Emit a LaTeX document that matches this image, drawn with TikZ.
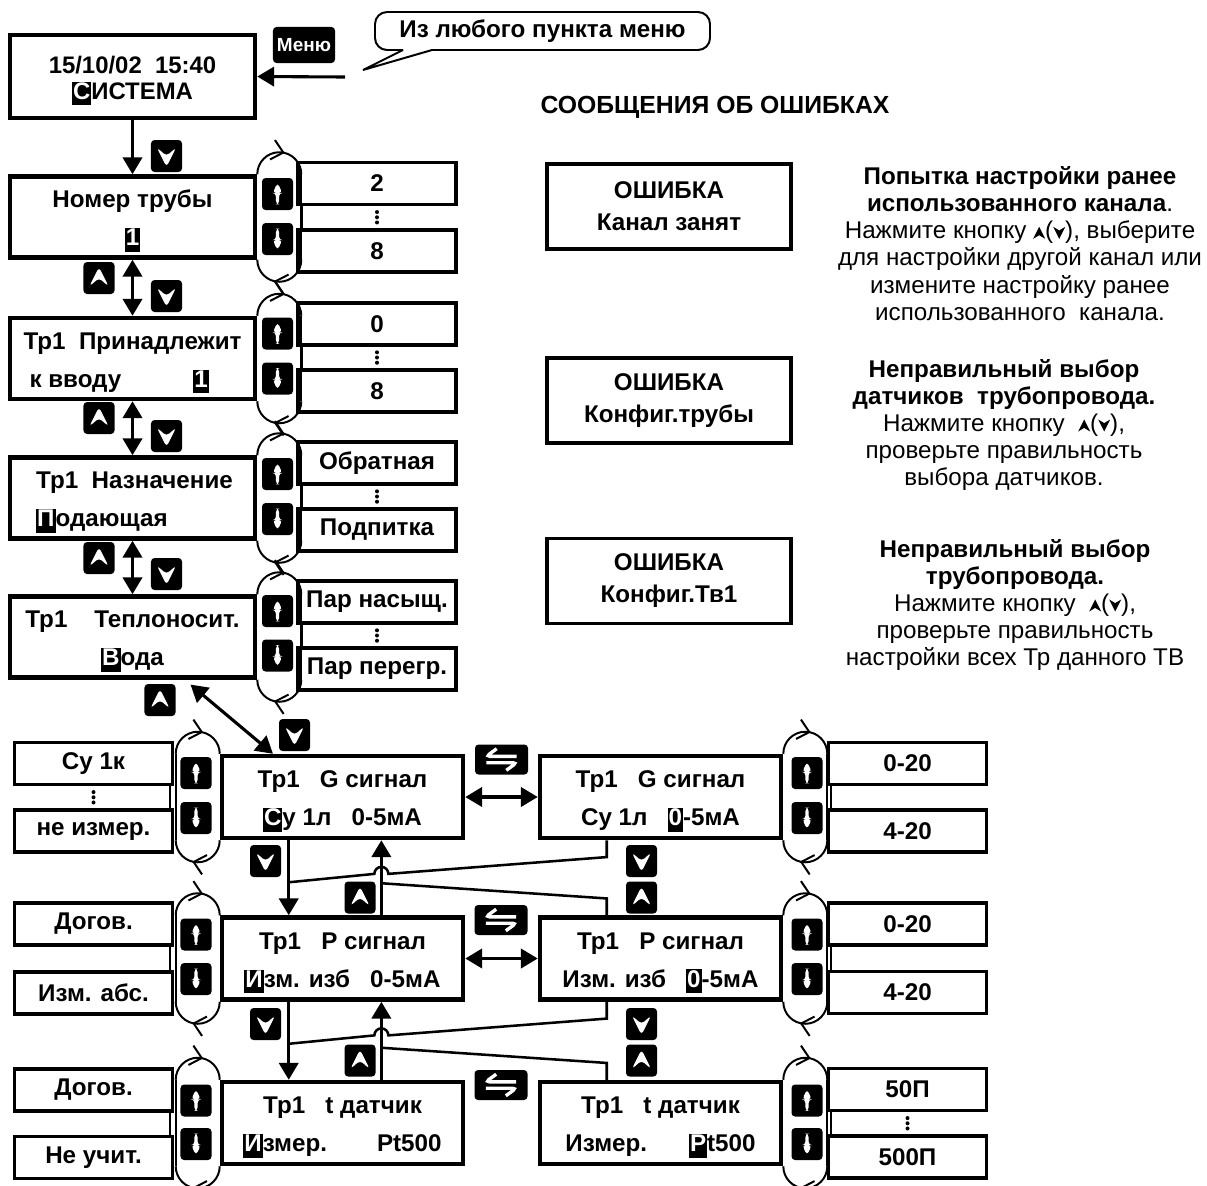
\documentclass[tikz,border=0pt]{standalone}
\usepackage{fontspec}
\setmainfont{Liberation Sans}
\usetikzlibrary{arrows.meta,calc,decorations.markings,positioning}

\newcommand\curs[1]{{\setlength\fboxsep{0.7pt}\colorbox{black}{\color{white}\vphantom{Ру}#1}}}
\newcommand\lift{\rule{0pt}{18pt}}
\newcommand\chevup{\tikz[baseline=0pt]\fill (0,0) -- (0.15cm,0.3cm) -- (0.3cm,0) -- (0.15cm,0.09cm) -- cycle;}
\newcommand\chevdn{\tikz[baseline=0pt]\fill (0,0.3cm) -- (0.15cm,0) -- (0.3cm,0.3cm) -- (0.15cm,0.21cm) -- cycle;}

\tikzset{
  screen/.style={draw, line width=3.2pt, minimum width=6.125cm, minimum height=2.025cm,
    inner sep=0pt, align=center, font=\bfseries\fontsize{17.2}{27}\selectfont},
  lcd/.style={screen, minimum width=6.025cm, minimum height=2.05cm},
  errbox/.style={draw, line width=2.8pt, minimum width=6.1cm, minimum height=2.125cm,
    inner sep=0pt, align=center, font=\bfseries\fontsize{17.2}{22.8}\selectfont},
  opt/.style={draw, line width=2.3pt, minimum width=3.95cm, minimum height=1.05cm,
    inner sep=0pt, font=\bfseries\fontsize{17.2}{20}\selectfont},
  note/.style={align=center, font=\fontsize{17.2}{19.3}\selectfont},
  btn/.style={fill=black, rounded corners=0.09cm, minimum width=0.775cm,
    minimum height=0.8cm, inner sep=0pt},
  navdown/.style={btn, path picture={\fill[white, shift={(path picture bounding box.center)}]
    (-0.24cm,0.21cm) -- (0,-0.27cm) -- (0.24cm,0.21cm) -- (0,0) -- cycle;}},
  navup/.style={btn, path picture={\fill[white, shift={(path picture bounding box.center)}]
    (-0.24cm,-0.21cm) -- (0,0.27cm) -- (0.24cm,-0.21cm) -- (0,0) -- cycle;}},
  scrollup/.style={btn, path picture={\fill[white, shift={(path picture bounding box.center)}]
    (0,0.28cm) -- (0.12cm,0.03cm) -- (0.04cm,0.03cm) -- (0.04cm,-0.26cm)
    -- (-0.04cm,-0.26cm) -- (-0.04cm,0.03cm) -- (-0.12cm,0.03cm) -- cycle;}},
  scrolldown/.style={btn, path picture={\fill[white, shift={(path picture bounding box.center)}]
    (0,-0.28cm) -- (0.12cm,-0.03cm) -- (0.04cm,-0.03cm) -- (0.04cm,0.26cm)
    -- (-0.04cm,0.26cm) -- (-0.04cm,-0.03cm) -- (-0.12cm,-0.03cm) -- cycle;}},
  swapkey/.style={btn, minimum width=1.325cm, minimum height=0.75cm, path picture={
    \draw[white, line width=2.4pt, shift={(path picture bounding box.center)}]
      (0.38cm,0.08cm) -- (-0.38cm,0.08cm) -- (-0.12cm,0.27cm);
    \draw[white, line width=2.4pt, shift={(path picture bounding box.center)}]
      (-0.38cm,-0.08cm) -- (0.38cm,-0.08cm) -- (0.12cm,-0.27cm);}},
  navarrow/.style={line width=2.2pt, -{Triangle[length=0.42cm,width=0.48cm]}},
  navboth/.style={line width=2.2pt, {Triangle[length=0.42cm,width=0.48cm]}-{Triangle[length=0.42cm,width=0.48cm]}},
  cyc/.style={line width=1.4pt, decoration={markings, mark=at position 0.58 with
    {\arrow{Straight Barb[length=0.28cm,width=0.5cm]}}}, postaction={decorate}},
  side/.style={line width=1.4pt},
  link/.style={line width=1.8pt},
  tie/.style={line width=1.4pt},
}

\begin{document}
\begin{tikzpicture}[x=0.025cm, y=-0.025cm]
    \useasboundingbox (0,0) rectangle (1207,1185);
    % main screen and menu key
    \node[screen, minimum height=2.075cm, font=\bfseries\fontsize{17}{18.5}\selectfont] (sys) at (132.5,76.5) {\lift 15/10/02\ \ 15:40\\\curs{С}ИСТЕМА};
    \node[btn, minimum width=1.55cm, minimum height=0.9cm, text=white, font=\bfseries\fontsize{13.5}{15}\selectfont] (menu) at (304,45) {Меню};
    \node[font=\bfseries\fontsize{17.2}{20}\selectfont] (bubble) at (542.5,31) {Из любого пункта меню};
    \draw[line width=1.4pt, rounded corners=0.3cm] (432,50) -- (710,50) -- (710,12) -- (375,12) -- (375,50) -- (403,50);
    \draw[line width=1.4pt] (403,50) -- (363,70) -- (432,50);
    \coordinate (anywhere) at (345,77);
    \draw[navarrow] (anywhere) -- (sys.east);

    % pipe settings
    \node[screen] (num) at (132.5,217) {\lift Номер трубы\\\curs{1}};
    \node[screen, align=left] (own) at (132.5,358.5) {\lift Тр1\ \ Принадлежит\\\hspace{0.15cm}к вводу\hspace{1.8cm}\curs{1}};
    \node[screen, align=left] (purp) at (132.5,498) {\lift\hspace{0.1cm}Тр1\ \ Назначение\\\hspace{0.1cm}\curs{П}одающая};
    \node[screen] (medium) at (132.5,637) {\lift Тр1\ \ \ \ Теплоносит.\\\curs{В}ода};
    \draw[navarrow] (sys.south) -- (num.north);
    \draw[navboth] (num.south) -- (own.north);
    \draw[navboth] (own.south) -- (purp.north);
    \draw[navboth] (purp.south) -- (medium.north);
    \node[navdown] (k0) at (166.5,156) {};
    \foreach \n/\y/\z in {1/278/296, 2/418/436, 3/558/574} {
        \node[navup] (up\n) at (99,\y) {};
        \node[navdown] (dn\n) at (166.5,\z) {};
    }

    \node[opt] (numA) at (377,183.5) {2};
    \node[opt] (numB) at (377,251) {8};
    \node[opt] (ownA) at (377,324) {0};
    \node[opt] (ownB) at (377,391) {8};
    \node[opt] (purpA) at (377,463) {Обратная};
    \node[opt] (purpB) at (377,530) {Подпитка};
    \node[opt] (medA) at (377,602) {Пар насыщ.};
    \node[opt] (medB) at (377,669) {Пар перегр.};

    % signal screens
    \node[lcd] (g) at (342.5,797) {\lift Тр1\ \ \ G сигнал\\\curs{С}у 1л\ \ \ 0-5мА};
    \node[lcd] (g2) at (660.5,797) {\lift Тр1\ \ \ G сигнал\\Су 1л\ \ \ \curs{0}-5мА};
    \node[lcd] (p) at (342.5,958.5) {\lift Тр1\ \ \ P сигнал\\\curs{И}зм. изб\ \ \ 0-5мА};
    \node[lcd] (p2) at (660.5,958.5) {\lift Тр1\ \ \ P сигнал\\Изм. изб\ \ \ \curs{0}-5мА};
    \node[lcd] (t) at (342.5,1123) {\lift Тр1\ \ \ t датчик\\\curs{И}змер.\hspace{1.25cm}Pt500};
    \node[lcd] (t2) at (660.5,1123) {\lift Тр1\ \ \ t датчик\\Измер.\hspace{1.05cm}\curs{P}t500};

    \node[opt] (gA) at (93.5,763.5) {Су 1к};
    \node[opt] (gB) at (93.5,831) {не измер.};
    \node[opt] (pA) at (93.5,924) {Догов.};
    \node[opt] (pB) at (93.5,993) {Изм. абс.};
    \node[opt] (tA) at (93.5,1090) {Догов.};
    \node[opt] (tB) at (93.5,1157.5) {Не учит.};
    \node[opt] (gC) at (907.5,763.5) {0-20};
    \node[opt] (gD) at (907.5,831) {4-20};
    \node[opt] (pC) at (907.5,924) {0-20};
    \node[opt] (pD) at (907.5,992.5) {4-20};
    \node[opt] (tC) at (907.5,1089.5) {50П};
    \node[opt] (tD) at (907.5,1157) {500П};

    % option ties and dots
    \foreach \u/\v in {numA/numB, ownA/ownB, purpA/purpB, medA/medB}
        \draw[tie] ([xshift=0.15cm]\u.south west) -- ([xshift=0.15cm]\v.north west);
    \foreach \u/\v in {gA/gB, pA/pB, tA/tB}
        \draw[tie] ([xshift=-0.1cm]\u.south east) -- ([xshift=-0.1cm]\v.north east);
    \foreach \u/\v in {gC/gD, pC/pD, tC/tD}
        \draw[tie] ([xshift=0.1cm]\u.south west) -- ([xshift=0.1cm]\v.north west);
    \foreach \u/\v in {numA/numB, ownA/ownB, purpA/purpB, medA/medB, gA/gB, tC/tD}
        \foreach \k in {-1,0,1}
            \fill ($(\u.south)!0.5!(\v.north)+(0,\k*0.13cm)$) circle[radius=0.05cm];

    % scroll loops
    \foreach \s in {num,own,purp,medium,g2,p2,t2} {
        \draw[cyc] (\s.north east) arc[start angle=180,end angle=0,radius=0.55cm];
        \draw[cyc] ([xshift=1.1cm]\s.south east) arc[start angle=0,end angle=-180,radius=0.55cm];
        \draw[side] ([xshift=1.1cm]\s.north east) -- ([xshift=1.1cm]\s.south east);
    }
    \foreach \s in {g,p,t} {
        \draw[cyc] ([xshift=-1.1cm]\s.north west) arc[start angle=180,end angle=0,radius=0.55cm];
        \draw[cyc] (\s.south west) arc[start angle=0,end angle=-180,radius=0.55cm];
        \draw[side] ([xshift=-1.1cm]\s.north west) -- ([xshift=-1.1cm]\s.south west);
    }
    \foreach \s/\yu/\yd in {num/194/239, own/333.5/378.5, purp/474/519, medium/611/655.5} {
        \node[scrollup] (\s-up) at (277.5,\yu) {};
        \node[scrolldown] (\s-dn) at (277.5,\yd) {};
    }
    \foreach \s/\yu/\yd in {g/773/818, p/934.5/979, t/1100.5/1144} {
        \node[scrollup] (\s-up) at (196,\yu) {};
        \node[scrolldown] (\s-dn) at (196,\yd) {};
        \node[scrollup] (\s2-up) at (807,\yu) {};
        \node[scrolldown] (\s2-dn) at (807,\yd) {};
    }

    % into the signal screens
    \draw[navboth] ([xshift=1.45cm,yshift=-0.12cm]medium.south) -- ([xshift=1.33cm]g.north west);
    \node[navup] (medup) at (160,700) {};
    \node[navdown] (gdown) at (294.5,735) {};

    % between the signal screens
    \foreach \a/\b/\c/\d/\y in {g/p/g2/p2/861, p/t/p2/t2/1024} {
        \draw[navboth] (\a.east) -- (\c.west);
        \draw[navarrow] ([xshift=1.725cm]\a.south west) -- ([xshift=1.725cm]\b.north west);
        \draw[navarrow] ([xshift=4.04cm]\b.north west) -- ([xshift=4.04cm]\a.south west);
        \draw[link] ([xshift=1.725cm]\c.south west) -- ([xshift=1.725cm,yshift=-0.42cm]\c.south west)
            -- ([xshift=4.215cm,yshift=-0.84cm]\a.south west) arc[start angle=0,end angle=180,radius=0.175cm]
            -- ([xshift=1.725cm,yshift=-1.05cm]\a.south west);
        \draw[link] ([xshift=4.04cm,yshift=0.8cm]\b.north west) -- ([xshift=1.725cm,yshift=0.42cm]\d.north west)
            -- ([xshift=1.725cm]\d.north west);
        \node[navdown] (\a-down) at (265.5,\y) {};
        \node[navup] (\b-back) at (360,\y+36.5) {};
        \node[navdown] (\c-down) at (641.5,\y) {};
        \node[navup] (\d-back) at (641.5,\y+36.5) {};
    }
    \node[swapkey] (gswap) at (501.5,759.5) {};
    \node[swapkey] (pswap) at (501,920) {};
    \node[swapkey] (tswap) at (501,1085) {};

    % error messages
    \node[font=\bfseries\fontsize{17.6}{20}\selectfont] (errtitle) at (715,107) {СООБЩЕНИЯ ОБ ОШИБКАХ};
    \node[errbox] (err1) at (669,206.5) {ОШИБКА\\Канал занят};
    \node[errbox] (err2) at (669,400.5) {ОШИБКА\\Конфиг.трубы};
    \node[errbox] (err3) at (669,581) {ОШИБКА\\Конфиг.Тв1};
    \node[note] (note1) at (1020,243.5) {\textbf{Попытка настройки ранее}\\\textbf{использованного канала}.\\Нажмите кнопку \chevup(\chevdn), выберите\\для настройки другой канал или\\измените настройку ранее\\использованного\ \ канала.};
    \node[note] (note2) at (1004,425) {\textbf{Неправильный выбор}\\\textbf{датчиков\ \ трубопровода.}\\Нажмите кнопку\ \ \chevup(\chevdn),\\проверьте правильность\\выбора датчиков.};
    \node[note] (note3) at (1015,605) {\textbf{Неправильный выбор}\\\textbf{трубопровода.}\\Нажмите кнопку\ \ \chevup(\chevdn),\\проверьте правильность\\настройки всех Тр данного ТВ};
\end{tikzpicture}
\end{document}
